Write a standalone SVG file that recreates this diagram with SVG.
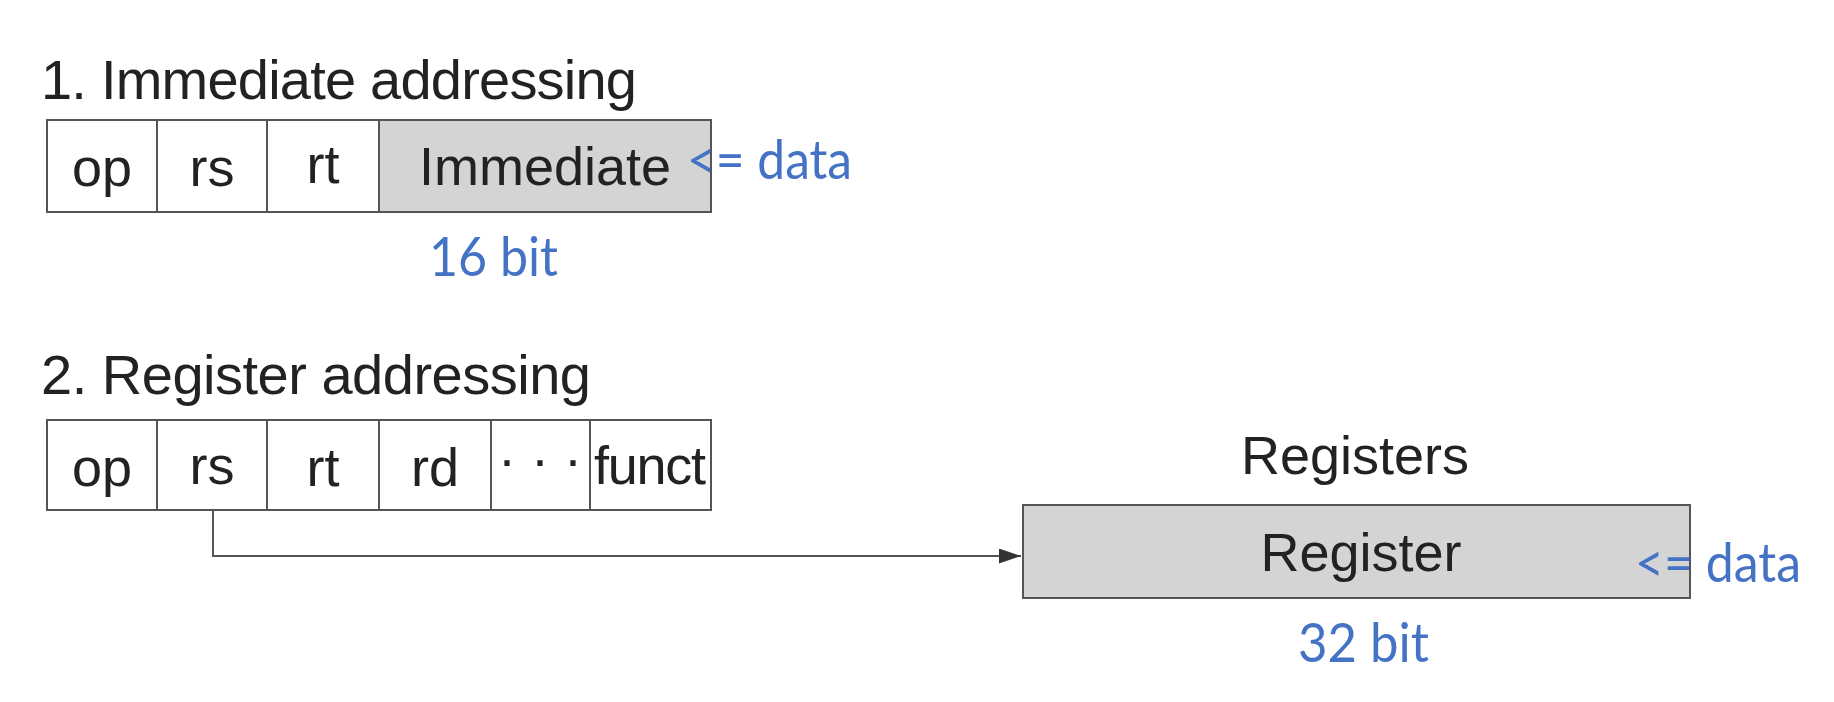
<svg xmlns="http://www.w3.org/2000/svg" width="1834" height="702" viewBox="0 0 1834 702">
<defs>
<style>
.t{font-family:"Liberation Sans",Arial,sans-serif;fill:#222;}
.title{font-size:56px;}
.cell{font-size:54px;text-anchor:middle;}
.blue{font-family:Lato,"Open Sans",sans-serif;fill:#4472C4;font-size:55px;}
.box{fill:#fff;stroke:#555;stroke-width:2;}
.gray{fill:#d4d4d4;stroke:#555;stroke-width:2;}
.div{stroke:#555;stroke-width:2;}
.conn{fill:none;stroke:#555;stroke-width:2;}
</style>
<marker id="arr" viewBox="0 0 10 10" refX="10" refY="5" markerWidth="22" markerHeight="15" markerUnits="userSpaceOnUse" orient="auto" preserveAspectRatio="none">
<path d="M0,0 L10,5 L0,10 z" fill="#333"/>
</marker>
</defs>
<rect width="1834" height="702" fill="#fff"/>

<g id="immediate-addressing">
<text class="t title" x="41" y="99" textLength="596">1. Immediate addressing</text>
<rect class="box" x="47" y="120" width="332" height="92"/>
<rect class="gray" x="379" y="120" width="332" height="92"/>
<line class="div" x1="157" y1="120" x2="157" y2="212"/>
<line class="div" x1="267" y1="120" x2="267" y2="212"/>
<text class="t cell" x="102" y="186">op</text>
<text class="t cell" x="212" y="186">rs</text>
<text class="t cell" x="323" y="183">rt</text>
<text class="t cell" x="545" y="185">Immediate</text>
<text class="blue" x="687" y="179" textLength="165" lengthAdjust="spacingAndGlyphs">&lt;= data</text>
<text class="blue" x="429" y="276" textLength="129" lengthAdjust="spacingAndGlyphs">16 bit</text>
</g>

<g id="register-addressing">
<text class="t title" x="41" y="394" textLength="550">2. Register addressing</text>
<rect class="box" x="47" y="420" width="664" height="90"/>
<line class="div" x1="157" y1="420" x2="157" y2="510"/>
<line class="div" x1="267" y1="420" x2="267" y2="510"/>
<line class="div" x1="379" y1="420" x2="379" y2="510"/>
<line class="div" x1="491" y1="420" x2="491" y2="510"/>
<line class="div" x1="590" y1="420" x2="590" y2="510"/>
<text class="t cell" x="102" y="486">op</text>
<text class="t cell" x="212" y="484">rs</text>
<text class="t cell" x="323" y="486">rt</text>
<text class="t cell" x="435" y="486">rd</text>
<text class="t cell" x="540" y="478">· · ·</text>
<text class="t cell" x="650" y="484" textLength="112">funct</text>
</g>

<g id="registers">
<text class="t cell" x="1355" y="474">Registers</text>
<rect class="gray" x="1023" y="505" width="667" height="93"/>
<text class="t cell" x="1361" y="571">Register</text>
<text class="blue" x="1635" y="582" textLength="166" lengthAdjust="spacingAndGlyphs">&lt;= data</text>
<text class="blue" x="1298" y="662" textLength="131" lengthAdjust="spacingAndGlyphs">32 bit</text>
</g>

<g id="connectors">
<polyline class="conn" points="213,510 213,556 1021,556" marker-end="url(#arr)"/>
</g>
</svg>
